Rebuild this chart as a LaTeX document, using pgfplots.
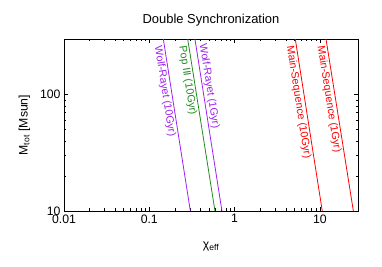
\documentclass[border=0pt]{standalone}
\usepackage{fontspec}
\setmainfont{Liberation Sans}
\usepackage{pgfplots}
\pgfplotsset{compat=1.18}
\definecolor{wrpurple}{HTML}{A020F0}
\definecolor{popgreen}{HTML}{228B22}
\definecolor{msred}{HTML}{FF0000}
\tikzset{lbl/.style={sloped, anchor=north west, font=\fontsize{10.7}{12}\selectfont, inner sep=1.3pt, pos=0.025}}
\begin{document}
\begin{tikzpicture}
\useasboundingbox (-64bp,-56bp) rectangle (318bp,211bp);
\begin{axis}[
  at={(0,0)}, anchor=south west,
  scale only axis, width=294bp, height=172bp,
  xmode=log, ymode=log,
  xmin=0.01, xmax=28, ymin=10, ymax=300,
  xtick={0.01,0.1,1,10}, xticklabels={0.01,0.1,1,10},
  ytick={10,100}, yticklabels={10,100},
  tick align=inside,
  major tick length=4bp, minor tick length=2.5bp,
  every tick/.style={black, line width=0.5pt},
  axis line style={line width=0.8pt},
  tick label style={font=\fontsize{12.3}{14}\selectfont},
  /pgf/number format/assume math mode=true,
  title={Double Synchronization},
  title style={font=\fontsize{13}{15}\selectfont, at={(0.5,1)}, yshift=3bp},
  xlabel={χ\textsubscript{eff}},
  ylabel={M\textsubscript{tot} [Msun]},
  xlabel style={font=\fontsize{12.3}{14}\selectfont, yshift=-12bp},
  ylabel style={font=\fontsize{12.3}{14}\selectfont, yshift=3bp},
  clip=true,
]
\addplot[wrpurple, line width=0.8pt] coordinates {(0.146,300) (0.303,10)}
  node[lbl, wrpurple] {Wolf-Rayet (10Gyr)};
\addplot[popgreen, line width=0.8pt] coordinates {(0.282,300) (0.589,10)}
  node[lbl, popgreen] {Pop III (10Gyr)};
\addplot[wrpurple, line width=0.8pt] coordinates {(0.343,300) (0.711,10)}
  node[lbl, anchor=south west, wrpurple] {Wolf-Rayet (1Gyr)};
\addplot[msred, line width=0.8pt] coordinates {(5.15,300) (10.67,10)}
  node[lbl, msred] {Main-Sequence (10Gyr)};
\addplot[msred, line width=0.8pt] coordinates {(11.8,300) (24.7,10)}
  node[lbl, msred] {Main-Sequence (1Gyr)};
\end{axis}
\end{tikzpicture}
\end{document}
